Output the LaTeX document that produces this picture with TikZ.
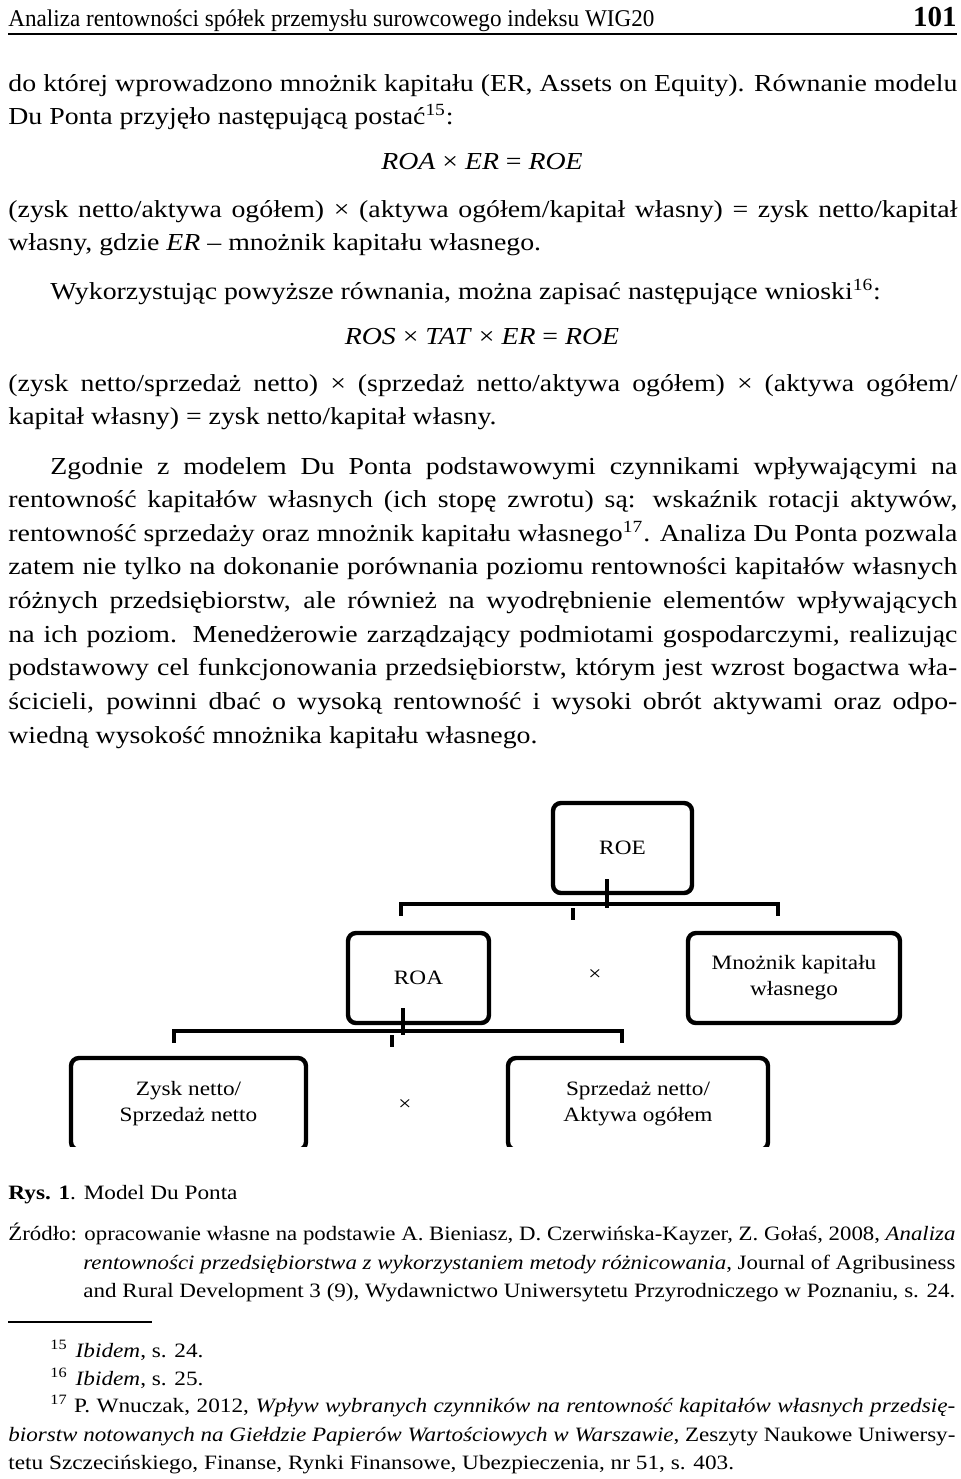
\documentclass[tikz,border=0pt]{standalone}
\usepackage{fontspec}
\setmainfont{Liberation Serif}[FakeStretch=1.14]
\newfontfamily{\plainfont}{Liberation Serif}
\usepackage{graphicx}
\usetikzlibrary{positioning}

\newcommand{\bodyfont}{\fontsize{12.2pt}{16.5pt}\selectfont}
\newcommand{\smallfont}{\fontsize{10.2pt}{14pt}\selectfont}
\newcommand{\boxfont}{\fontsize{10.2pt}{13pt}\selectfont}
\newsavebox{\linebox}
% justified line of a given width
\newcommand{\jline}[2]{\sbox{\linebox}{#2}%
  \ifdim\wd\linebox>#1\relax\resizebox{#1}{\height}{\usebox{\linebox}}%
  \else\makebox[#1][s]{#2}\fi}

\tikzset{
  txt/.style={anchor=base west, inner sep=0pt, font=\bodyfont},
  fn/.style={anchor=base west, inner sep=0pt, font=\smallfont},
  box/.style={draw, line width=2.2pt, rounded corners=4pt, align=center, font=\boxfont, inner sep=0pt},
  link/.style={line width=2pt},
}

\begin{document}
\begin{tikzpicture}[x=0.5pt,y=-0.5pt]
  \useasboundingbox (0,0) rectangle (960,1479);
  \fill[white] (0,0) rectangle (960,1479);

  % Header
  \node[anchor=base west, inner sep=0pt, font=\plainfont\fontsize{12pt}{13pt}\selectfont] (head) at (8,26)
    {\jline{323pt}{Analiza rentowności spółek przemysłu surowcowego indeksu WIG20}};
  \node[anchor=base east, inner sep=0pt, font=\plainfont\fontsize{14.5pt}{16pt}\selectfont\bfseries] (page) at (957,26) {101};
  \draw[line width=1pt] (8,34) -- (957,34);

  % Text
  \node[txt] (l1) at (8,91) {\jline{474.5pt}{do której wprowadzono mnożnik kapitału (ER, Assets on Equity). Równanie modelu}};
  \node[txt] (l2) at (8,124) {Du Ponta przyjęło następującą postać\textsuperscript{15}:};
  \node[txt, anchor=base] (eq1) at (482,169) {\textit{ROA} × \textit{ER} = \textit{ROE}};
  \node[txt] (l3) at (8,217) {\jline{474.5pt}{(zysk netto/aktywa ogółem) × (aktywa ogółem/kapitał własny) = zysk netto/kapitał}};
  \node[txt] (l4) at (8,250) {własny, gdzie \textit{ER} – mnożnik kapitału własnego.};
  \node[txt] (l5) at (50,299) {Wykorzystując powyższe równania, można zapisać następujące wnioski\textsuperscript{16}:};
  \node[txt, anchor=base] (eq2) at (482,344) {\textit{ROS} × \textit{TAT} × \textit{ER} = \textit{ROE}};
  \node[txt] (l6) at (8,391) {\jline{474.5pt}{(zysk netto/sprzedaż netto) × (sprzedaż netto/aktywa ogółem) × (aktywa ogółem/}};
  \node[txt] (l7) at (8,424) {kapitał własny) = zysk netto/kapitał własny.};
  \node[txt] (l8) at (50,474) {\jline{453.5pt}{Zgodnie z modelem Du Ponta podstawowymi czynnikami wpływającymi na}};
  \node[txt] (l9) at (8,507) {\jline{474.5pt}{rentowność kapitałów własnych (ich stopę zwrotu) są: wskaźnik rotacji aktywów,}};
  \node[txt] (l10) at (8,541) {\jline{474.5pt}{rentowność sprzedaży oraz mnożnik kapitału własnego\textsuperscript{17}. Analiza Du Ponta pozwala}};
  \node[txt] (l11) at (8,574) {\jline{474.5pt}{zatem nie tylko na dokonanie porównania poziomu rentowności kapitałów własnych}};
  \node[txt] (l12) at (8,608) {\jline{474.5pt}{różnych przedsiębiorstw, ale również na wyodrębnienie elementów wpływających}};
  \node[txt] (l13) at (8,642) {\jline{474.5pt}{na ich poziom. Menedżerowie zarządzający podmiotami gospodarczymi, realizując}};
  \node[txt] (l14) at (8,675) {\jline{474.5pt}{podstawowy cel funkcjonowania przedsiębiorstw, którym jest wzrost bogactwa wła-}};
  \node[txt] (l15) at (8,709) {\jline{474.5pt}{ścicieli, powinni dbać o wysoką rentowność i wysoki obrót aktywami oraz odpo-}};
  \node[txt] (l16) at (8,743) {wiedną wysokość mnożnika kapitału własnego.};

  % Diagram
  \node[box, minimum width=69.5pt, minimum height=45pt] (roe) at (622.5,848) {ROE};
  \node[box, minimum width=70.5pt, minimum height=45pt] (roa) at (418.5,978) {ROA};
  \node[box, minimum width=106pt, minimum height=45pt] (mnoz) at (794,978) {Mnożnik kapitału\\własnego};
  \node[font=\boxfont] (x1) at (595,975) {×};
  \begin{scope}
    \clip (0,0) rectangle (960,1146);
    \node[box, minimum width=117.5pt, minimum height=46pt] (zysk) at (188.5,1104) {Zysk netto/\\Sprzedaż netto};
    \node[box, minimum width=130pt, minimum height=46pt] (sprz) at (638,1104) {Sprzedaż netto/\\Aktywa ogółem};
  \end{scope}
  \node[font=\boxfont] (x2) at (405,1105) {×};

  % ROE -> ROA, Mnoznik
  \draw[link] ([xshift=-8pt,yshift=8pt]roe.south) -- ++(0,29) coordinate (j1);
  \draw[link] ([xshift=-8.75pt,yshift=7.5pt]roa.north) -- ++(0,-12) -| ([xshift=-8pt,yshift=7.5pt]mnoz.north);
  \draw[link] (j1) ++(-34,0) -- ++(0,12);
  % ROA -> bottom row
  \draw[link] ([xshift=-7.75pt,yshift=8.5pt]roa.south) -- ++(0,27) coordinate (j2);
  \draw[link] ([xshift=-7.25pt,yshift=6.5pt]zysk.north) -- ++(0,-12) -| ([xshift=-8pt,yshift=6.5pt]sprz.north);
  \draw[link] (j2) ++(-11,0) -- ++(0,12);

  % Caption and source
  \node[fn] (cap) at (8,1199) {\textbf{Rys. 1}. Model Du Ponta};
  \node[fn] (s1) at (8,1240) {\jline{473.5pt}{Źródło: opracowanie własne na podstawie A. Bieniasz, D. Czerwińska-Kayzer, Z. Gołaś, 2008, \textit{Analiza}}};
  \node[fn] (s2) at (83,1269) {\jline{436pt}{\textit{rentowności przedsiębiorstwa z wykorzystaniem metody różnicowania}, Journal of Agribusiness}};
  \node[fn] (s3) at (83,1297) {\jline{436pt}{and Rural Development 3 (9), Wydawnictwo Uniwersytetu Przyrodniczego w Poznaniu, s. 24.}};

  % Footnotes
  \draw[line width=0.6pt] (8,1322) -- (152,1322);
  \node[fn] (f15) at (50,1357) {\textsuperscript{15}\hspace{4pt}\textit{Ibidem}, s. 24.};
  \node[fn] (f16) at (50,1385) {\textsuperscript{16}\hspace{4pt}\textit{Ibidem}, s. 25.};
  \node[fn] (f17a) at (50,1412) {\jline{452.5pt}{\textsuperscript{17} P. Wnuczak, 2012, \textit{Wpływ wybranych czynników na rentowność kapitałów własnych przedsię-}}};
  \node[fn] (f17b) at (8,1441) {\jline{473.5pt}{\textit{biorstw notowanych na Giełdzie Papierów Wartościowych w Warszawie}, Zeszyty Naukowe Uniwersy-}};
  \node[fn] (f17c) at (8,1469) {tetu Szczecińskiego, Finanse, Rynki Finansowe, Ubezpieczenia, nr 51, s. 403.};
\end{tikzpicture}
\end{document}
